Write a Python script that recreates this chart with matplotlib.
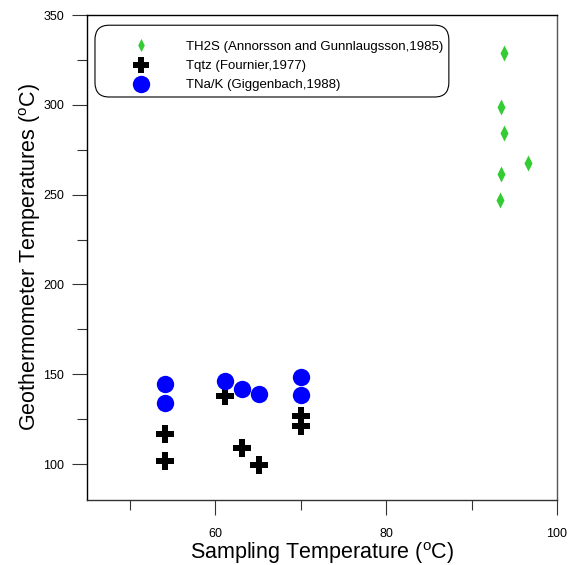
import matplotlib
matplotlib.use('Agg')
import matplotlib.pyplot as plt
from matplotlib.patches import FancyBboxPatch
from matplotlib.ticker import MultipleLocator

plt.rcParams['font.family'] = ['Liberation Sans', 'DejaVu Sans']

# geothermometer estimates vs measured sampling temperature
h2s_x = [93.8, 93.4, 93.8, 96.6, 93.5, 93.3]
h2s_y = [328.8, 298.8, 284.5, 267.8, 261.7, 247.0]

qtz_x = [54.1, 54.1, 61.1, 63.1, 65.1, 70.1, 70.1]
qtz_y = [116.9, 101.7, 138.0, 108.7, 99.3, 126.8, 121.2]

nak_x = [54.1, 54.1, 61.1, 63.1, 65.1, 70.1, 70.1]
nak_y = [144.6, 134.2, 146.1, 142.0, 138.9, 148.4, 138.5]

labels = ['TH2S (Annorsson and Gunnlaugsson,1985)',
          'Tqtz (Fournier,1977)',
          'TNa/K (Giggenbach,1988)']

# narrow diamond (half as wide as tall)
thin_diamond = [(0, 1), (0.5, 0), (0, -1), (-0.5, 0), (0, 1)]

fig = plt.figure(figsize=(5.73, 5.65), dpi=100)
ax = fig.add_axes([0.1518, 0.115, 0.8202, 0.8584])

ax.plot(h2s_x, h2s_y, linestyle='none', marker=thin_diamond, markersize=11.5,
        color='#33cc33', markeredgewidth=0, label=labels[0])
ax.plot(qtz_x, qtz_y, linestyle='none', marker='P', markersize=13,
        color='black', markeredgewidth=0, label=labels[1])
ax.plot(nak_x, nak_y, linestyle='none', marker='o', markersize=12.5,
        color='#0000ff', markeredgewidth=0, label=labels[2])

ax.set_xlim(45, 100)
ax.set_ylim(80, 350)
ax.xaxis.set_major_locator(MultipleLocator(20))
ax.xaxis.set_minor_locator(MultipleLocator(10))
ax.yaxis.set_major_locator(MultipleLocator(50))
ax.yaxis.set_minor_locator(MultipleLocator(25))
ax.tick_params(which='major', direction='out', length=11, width=0.8,
               color='#333333', labelsize=9, pad=5.5)
ax.tick_params(which='minor', direction='out', length=7, width=0.8,
               color='#333333')
ax.tick_params(axis='x', which='major', pad=9)
for s in ax.spines.values():
    s.set_linewidth(1.0)
ax.spines['right'].set_color('#555555')
ax.spines['bottom'].set_color('#333333')

ax.set_xlabel('Sampling Temperature ($^\\mathregular{o}$C)', fontsize=15.5, labelpad=0)
ax.set_ylabel('Geothermometer Temperatures ($^\\mathregular{o}$C)', fontsize=15.5, labelpad=0)

# rounded box behind the legend entries
box = FancyBboxPatch((0.017, 0.831), 0.753, 0.148, transform=ax.transAxes,
                     boxstyle='round,pad=0,rounding_size=0.03',
                     facecolor='white', edgecolor='black', linewidth=0.8,
                     zorder=4)
ax.add_patch(box)

leg = ax.legend(loc='upper left', bbox_to_anchor=(0.0868, 0.947), fontsize=9.5,
                frameon=False, borderpad=0, handlelength=2.0,
                handletextpad=2.4, labelspacing=0.53, borderaxespad=0,
                numpoints=1)
leg.set_zorder(5)
leg.legend_handles[0].set_markersize(9.5)
leg.legend_handles[1].set_markersize(12)

fig.savefig('out.png', dpi=100)
